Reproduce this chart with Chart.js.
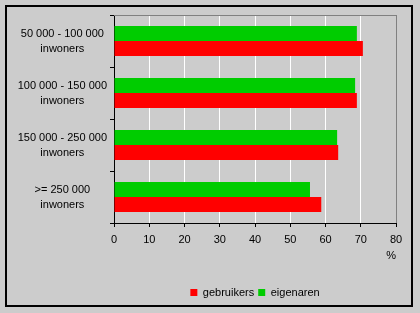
<!DOCTYPE html>
<html>
<head>
<meta charset="utf-8">
<script src="https://cdn.jsdelivr.net/npm/chart.js@4"></script>
<style>
  html, body { margin: 0; padding: 0; background: #cccccc; }
  #wrap { position: relative; width: 420px; height: 313px; }
  #frame { position: absolute; left: 5px; top: 5px; width: 404px; height: 298px; border: 2px solid #000; }
  canvas { position: absolute; left: 0; top: 0; }
</style>
</head>
<body>
<div id="wrap">
  <div id="frame"></div>
  <canvas id="c" width="420" height="313"></canvas>
</div>
<script>
const categories = [
  ["50 000 - 100 000", "inwoners"],
  ["100 000 - 150 000", "inwoners"],
  ["150 000 - 250 000", "inwoners"],
  [">= 250 000", "inwoners"]
];
const gebruikers = [70.6, 68.9, 63.6, 58.8];
const eigenaren = [68.9, 68.4, 63.3, 55.6];
const xMin = 0, xMax = 80, xStep = 10;
const xTitle = "%";

const FONT = "'Liberation Sans', Arial, sans-serif";

const frameBorder = {
  id: 'frameBorder',
  afterDraw(chart) {
    const {ctx, chartArea: a} = chart;
    ctx.save();
    ctx.strokeStyle = '#808080';
    ctx.lineWidth = 1;
    ctx.beginPath();
    ctx.moveTo(a.left, Math.round(a.top) + 0.5);
    ctx.lineTo(a.right + 0.5, Math.round(a.top) + 0.5);
    ctx.stroke();
    ctx.restore();
  }
};

new Chart(document.getElementById('c'), {
  type: 'bar',
  data: {
    labels: categories,
    datasets: [
      { label: 'eigenaren', data: eigenaren, backgroundColor: '#00cc00', borderWidth: 0,
        barPercentage: 1.0, categoryPercentage: 0.58 },
      { label: 'gebruikers', data: gebruikers, backgroundColor: '#ff0000', borderWidth: 0,
        barPercentage: 1.0, categoryPercentage: 0.58 }
    ]
  },
  options: {
    indexAxis: 'y',
    responsive: false,
    animation: false,
    layout: { padding: { top: 15, right: 24, left: 0, bottom: 5 } },
    plugins: {
      legend: {
        position: 'bottom',
        fullSize: false,
        reverse: true,
        labels: {
          boxWidth: 7, boxHeight: 7, padding: 4,
          color: '#000',
          font: { family: FONT, size: 11 }
        }
      },
      tooltip: { enabled: false }
    },
    scales: {
      x: {
        min: xMin, max: xMax,
        ticks: { stepSize: xStep, color: '#000', padding: 6, maxRotation: 0,
                 font: { family: FONT, size: 11 } },
        grid: {
          color: (ctx) => (ctx.tick && ctx.tick.value === xMax) ? '#808080' : '#ffffff',
          tickColor: '#000', tickLength: 4, lineWidth: 1
        },
        border: { color: '#000', width: 1 },
        title: { display: true, text: xTitle, align: 'end', color: '#000',
                 font: { family: FONT, size: 11 }, padding: { top: 0, bottom: 20 } },
        afterFit(scale) { scale.height = 60; scale.paddingLeft = 0; scale.paddingRight = 0; }
      },
      y: {
        ticks: { color: '#000', padding: 3, crossAlign: 'center',
                 font: { family: FONT, size: 11, lineHeight: 1.36 } },
        grid: { offset: true, drawOnChartArea: false, tickColor: '#000', tickLength: 4, color: '#000' },
        border: { color: '#000', width: 1 },
        afterFit(scale) { scale.width = 114; scale.paddingTop = 0; scale.paddingBottom = 0; }
      }
    }
  },
  plugins: [frameBorder]
});
</script>
</body>
</html>
